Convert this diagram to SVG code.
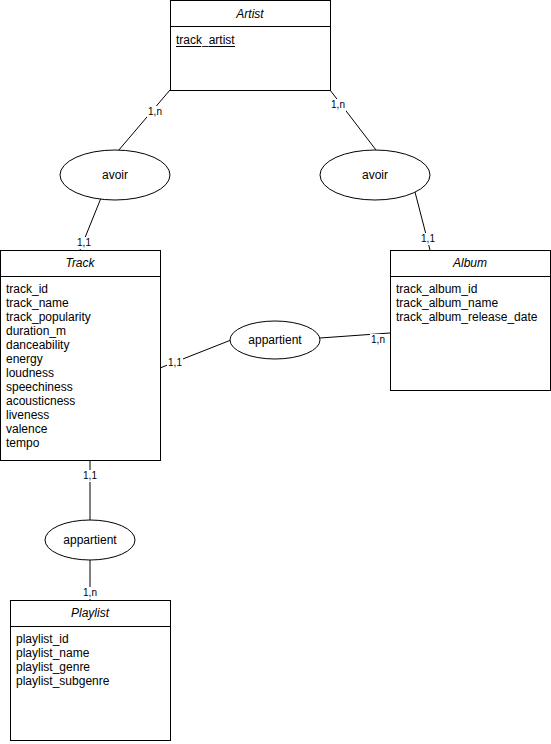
<svg xmlns="http://www.w3.org/2000/svg" width="551" height="744" viewBox="0 0 551 744">
<style>
.box{fill:#fff;stroke:#000;stroke-width:1}
.ell{fill:#fff;stroke:#000;stroke-width:1}
.hd{font-family:"Liberation Sans",Arial,sans-serif;font-size:12px;font-style:italic;text-anchor:middle;fill:#000}
.at{font-family:"Liberation Sans",Arial,sans-serif;font-size:12px;fill:#000}
.el{font-family:"Liberation Sans",Arial,sans-serif;font-size:12px;text-anchor:middle;fill:#000}
.card{font-family:"Liberation Sans",Arial,sans-serif;font-size:10px;text-anchor:middle;fill:#000}
.cbg{fill:#fff;stroke:none}
.ln{stroke:#000;stroke-width:1;fill:none}
</style>
<defs>
<rect id="lb" class="cbg" x="-8" y="-9" width="16" height="12"/>
</defs>
<rect width="551" height="744" fill="#fff"/>
<g id="connectors">
<line class="ln" x1="170" y1="90" x2="118" y2="151"/>
<line class="ln" x1="330" y1="90" x2="376" y2="150"/>
<line class="ln" x1="101" y1="198" x2="80" y2="250"/>
<line class="ln" x1="415" y1="192" x2="430" y2="250"/>
<line class="ln" x1="160" y1="368" x2="231" y2="340"/>
<line class="ln" x1="320" y1="338" x2="390" y2="333"/>
<line class="ln" x1="90" y1="460" x2="90" y2="520"/>
<line class="ln" x1="90" y1="560" x2="90" y2="600"/>
<use href="#lb" x="155" y="115"/><text class="card" x="155" y="115">1,n</text>
<use href="#lb" x="338" y="108"/><text class="card" x="338" y="108">1,n</text>
<use href="#lb" x="84" y="246"/><text class="card" x="84" y="246">1,1</text>
<use href="#lb" x="428" y="242"/><text class="card" x="428" y="242">1,1</text>
<use href="#lb" x="175" y="366"/><text class="card" x="175" y="366">1,1</text>
<use href="#lb" x="378" y="343"/><text class="card" x="378" y="343">1,n</text>
<use href="#lb" x="90" y="479"/><text class="card" x="90" y="479">1,1</text>
<use href="#lb" x="90" y="596"/><text class="card" x="90" y="596">1,n</text>
</g>
<g id="artist">
<rect class="box" x="170.5" y="0.5" width="160" height="90"/>
<line class="ln" x1="170.5" y1="26.5" x2="330.5" y2="26.5"/>
<text class="hd" x="250" y="18">Artist</text>
<text class="at" x="176" y="44">track_artist</text>
<line class="ln" x1="176" y1="46.5" x2="201" y2="46.5"/>
<line class="ln" x1="209" y1="46.5" x2="235" y2="46.5"/>
</g>
<g id="avoir1">
<ellipse class="ell" cx="115" cy="175" rx="55" ry="25"/>
<text class="el" x="115" y="179">avoir</text>
</g>
<g id="avoir2">
<ellipse class="ell" cx="375" cy="175" rx="55" ry="25"/>
<text class="el" x="375" y="179">avoir</text>
</g>
<g id="track">
<rect class="box" x="0.5" y="250.5" width="160" height="210"/>
<line class="ln" x1="0.5" y1="276.5" x2="160.5" y2="276.5"/>
<text class="hd" x="80" y="267">Track</text>
<text class="at" x="6" y="293">track_id</text>
<text class="at" x="6" y="307">track_name</text>
<text class="at" x="6" y="321">track_popularity</text>
<text class="at" x="6" y="335">duration_m</text>
<text class="at" x="6" y="349">danceability</text>
<text class="at" x="6" y="363">energy</text>
<text class="at" x="6" y="377">loudness</text>
<text class="at" x="6" y="391">speechiness</text>
<text class="at" x="6" y="405">acousticness</text>
<text class="at" x="6" y="419">liveness</text>
<text class="at" x="6" y="433">valence</text>
<text class="at" x="6" y="447">tempo</text>
</g>
<g id="album">
<rect class="box" x="390.5" y="250.5" width="160" height="140"/>
<line class="ln" x1="390.5" y1="276.5" x2="550.5" y2="276.5"/>
<text class="hd" x="470" y="267">Album</text>
<text class="at" x="396" y="293">track_album_id</text>
<text class="at" x="396" y="307">track_album_name</text>
<text class="at" x="396" y="321">track_album_release_date</text>
</g>
<g id="appartient1">
<ellipse class="ell" cx="275" cy="340" rx="45" ry="19"/>
<text class="el" x="275" y="344">appartient</text>
</g>
<g id="appartient2">
<ellipse class="ell" cx="90" cy="540" rx="45" ry="20"/>
<text class="el" x="90" y="544">appartient</text>
</g>
<g id="playlist">
<rect class="box" x="10.5" y="600.5" width="160" height="140"/>
<line class="ln" x1="10.5" y1="626.5" x2="170.5" y2="626.5"/>
<text class="hd" x="90" y="617">Playlist</text>
<text class="at" x="16" y="643">playlist_id</text>
<text class="at" x="16" y="657">playlist_name</text>
<text class="at" x="16" y="671">playlist_genre</text>
<text class="at" x="16" y="685">playlist_subgenre</text>
</g>
</svg>
